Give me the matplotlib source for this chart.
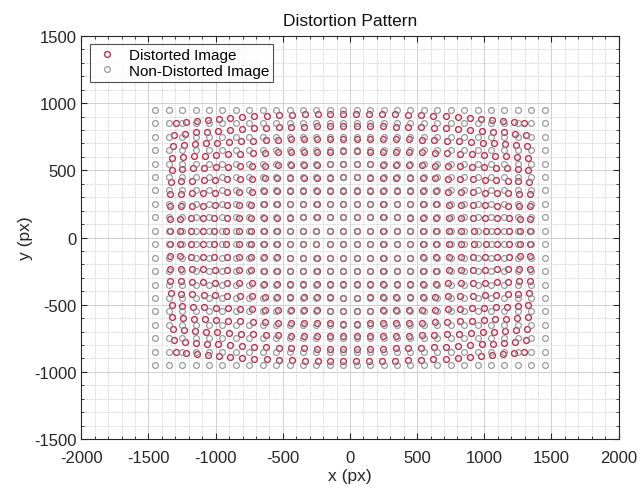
import numpy as np
import matplotlib
matplotlib.use("Agg")
import matplotlib.pyplot as plt
from matplotlib.ticker import MultipleLocator

plt.rcParams['font.family'] = ['Liberation Sans', 'DejaVu Sans']
plt.rcParams['axes.unicode_minus'] = False

# undistorted grid (px)
grid_x = [-1450, -1350, -1250, -1150, -1050, -950, -850, -750, -650, -550,
          -450, -350, -250, -150, -50, 50, 150, 250, 350, 450,
          550, 650, 750, 850, 950, 1050, 1150, 1250, 1350, 1450]
grid_y = [-950, -850, -750, -650, -550, -450, -350, -250, -150, -50,
          50, 150, 250, 350, 450, 550, 650, 750, 850, 950]

# radial distortion coefficient (px^-2)
k1 = -3.5e-8

xx, yy = np.meshgrid(grid_x, grid_y)
xx = xx.ravel()
yy = yy.ravel()
r2 = xx**2 + yy**2
xd = xx * (1 + k1 * r2)
yd = yy * (1 + k1 * r2)

red = '#b8334f'
gray = '#8a8a8a'

fig = plt.figure(figsize=(6.41, 4.89), dpi=100)
ax = fig.add_axes([0.1248, 0.1002, 0.8424, 0.8241])

ax.plot(xd, yd, 'o', mfc='none', mec=red, ms=4.2, mew=1.0, label='Distorted Image')
ax.plot(xx, yy, 'o', mfc='none', mec=gray, ms=4.2, mew=0.9, alpha=0.85,
        label='Non-Distorted Image')

ax.set_xlim(-2000, 2000)
ax.set_ylim(-1500, 1500)
ax.set_aspect('equal')
ax.xaxis.set_major_locator(MultipleLocator(500))
ax.yaxis.set_major_locator(MultipleLocator(500))
ax.xaxis.set_minor_locator(MultipleLocator(100))
ax.yaxis.set_minor_locator(MultipleLocator(100))

ax.grid(which='major', color='#d0d0d0', lw=0.7, ls='-')
ax.grid(which='minor', color='#d8d8d8', lw=0.7, ls=(0, (1.5, 1)))
ax.set_axisbelow(True)

ax.tick_params(which='both', direction='in', top=True, right=True,
               colors='#262626', labelsize=12)
ax.tick_params(which='major', length=4, width=0.8)
ax.tick_params(which='minor', length=2, width=0.6)
ax.tick_params(axis='x', which='major', pad=8)
for s in ax.spines.values():
    s.set_color('#262626')
    s.set_linewidth(0.8)

ax.set_title('Distortion Pattern', fontsize=12.5, color='#111111', pad=8)
ax.set_xlabel('x (px)', fontsize=12.5, color='#262626', labelpad=2)
ax.set_ylabel('y (px)', fontsize=12.5, color='#262626', labelpad=1)

leg = ax.legend(loc='upper left', fontsize=11, frameon=True, fancybox=False,
                edgecolor='#262626', borderpad=0.25, handletextpad=0.5,
                labelspacing=0.1, borderaxespad=0.55, handlelength=1.8)
leg.get_frame().set_linewidth(0.8)

fig.savefig('out.png', dpi=100)
